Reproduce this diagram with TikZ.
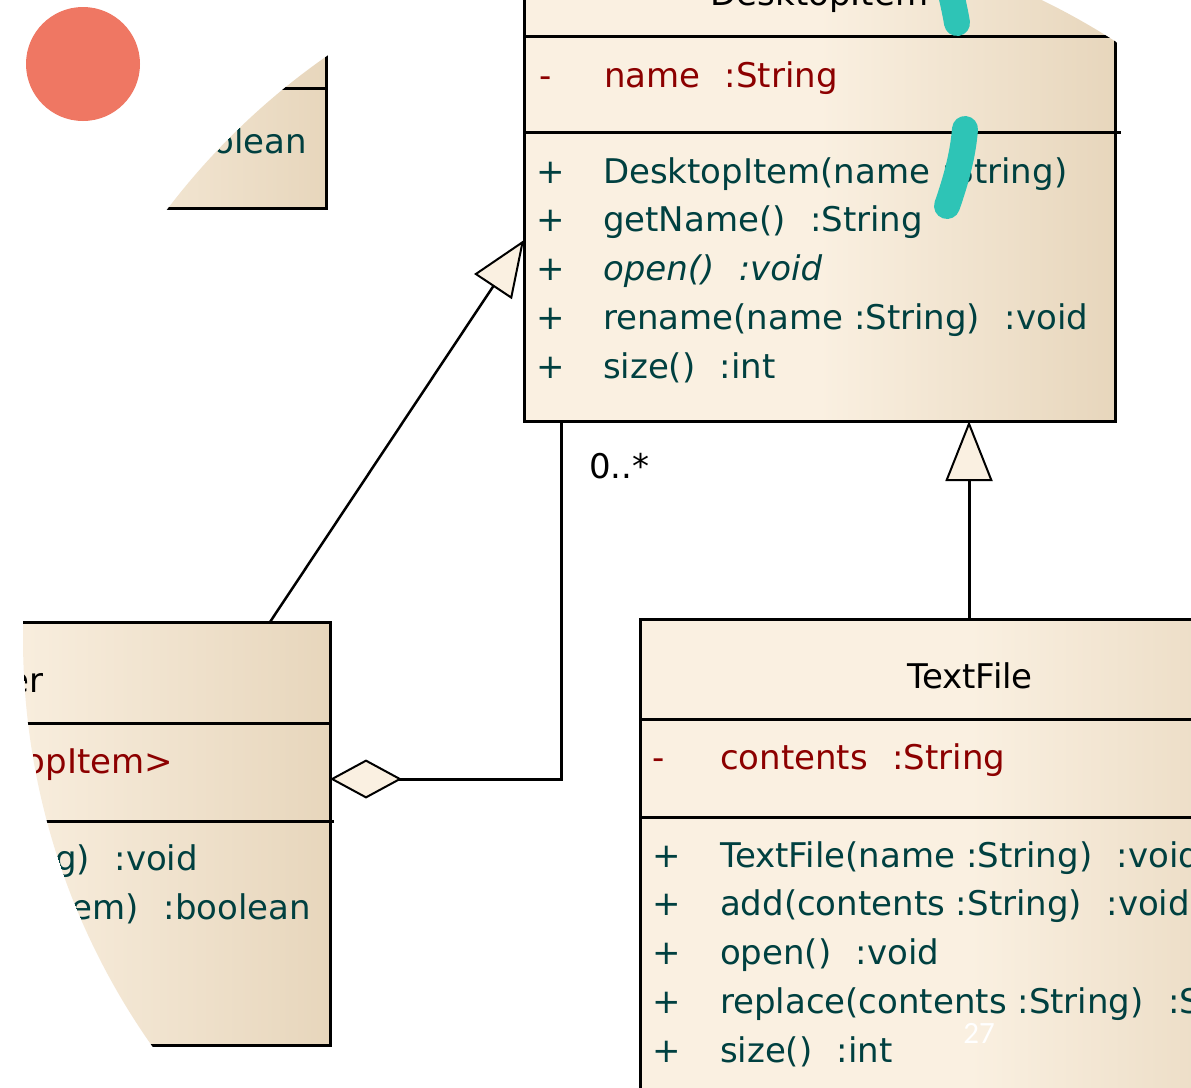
\documentclass[tikz,border=0pt]{standalone}
\usepackage{fontspec}
\setmainfont{DejaVu Sans}
\newfontfamily\pagefont{Carlito}
\usetikzlibrary{arrows.meta,calc}
\definecolor{cream}{RGB}{250,240,225}
\definecolor{boxtan}{RGB}{231,214,188}
\definecolor{opcol}{RGB}{0,64,64}
\definecolor{attrcol}{RGB}{140,0,0}
\definecolor{dotred}{RGB}{239,119,99}
\definecolor{markteal}{RGB}{46,196,182}
\newcommand\rgap{\hspace{0.4em}}
\begin{document}
\begin{tikzpicture}[x=1pt,y=-1pt,
  umlbox/.style={draw=black, line width=3pt, rectangle, inner sep=0pt, outer sep=0pt,
    anchor=north west, left color=cream, right color=boxtan, middle color=cream},
  sepline/.style={draw=black, line width=3pt},
  txt/.style={inner sep=0pt, outer sep=0pt, font=\fontsize{34}{40}\selectfont},
  titletxt/.style={txt, text=black, anchor=base},
  attrtxt/.style={txt, text=attrcol, anchor=base west},
  optxt/.style={txt, text=opcol, anchor=base west},
  marktxt/.style={txt, anchor=base},
  genline/.style={draw=black, line width=2.5pt,
    -{Triangle[length=56pt, width=45pt, fill=cream, line width=2pt]}},
  genlineb/.style={draw=black, line width=3pt,
    -{Triangle[length=60pt, width=47pt, fill=cream, line width=2pt]}},
  aggline/.style={draw=black, line width=3pt,
    -{Diamond[length=72pt, width=39pt, fill=cream, line width=2pt]}},
  stroke/.style={draw=markteal, line width=26pt, line cap=round}
]
\useasboundingbox (0,0) rectangle (1191,1087);
\fill[white] (0,0) rectangle (1191,1087);

\begin{scope}
\clip (0,0) rectangle (1191,1087);
\clip (732,638) circle[radius=709pt];

% top-left box
\node[umlbox, minimum width=576pt, minimum height=308pt] (doc) at (-250,-100) {};
\draw[sepline] ($(doc.north west)+(0,188)$) -- ($(doc.north east)+(0,188)$);
\node[optxt, anchor=base east] (docop) at (307,153) {:boolean};

% Folder box
\node[umlbox, minimum width=682pt, minimum height=423pt] (folder) at (-352,622) {};
\draw[sepline] ($(folder.north west)+(0,101)$) -- ($(folder.north east)+(0,101)$);
\draw[sepline] ($(folder.north west)+(0,199)$) -- ($(folder.north east)+(4,199)$);
\node[titletxt, anchor=base east] (ftitle) at (43,692) {er};
\node[attrtxt, anchor=base east] (fattr) at (173,773) {opItem>};
\node[optxt, anchor=base east] (fop1) at (198,870) {g)\rgap{} :void};
\node[optxt, anchor=base east] (fop2) at (311,919) {em)\rgap{} :boolean};

% DesktopItem box
\node[umlbox, minimum width=591pt, minimum height=485pt] (desk) at (524,-64) {};
\draw[sepline] ($(desk.north west)+(0,100)$) -- ($(desk.north east)+(0,100)$);
\draw[sepline] ($(desk.north west)+(0,196)$) -- ($(desk.north east)+(6,196)$);
\node[titletxt] (dtitle) at (819.5,5) {DesktopItem};
\node[marktxt, text=attrcol] (dam) at (545.5,87) {-};
\node[attrtxt] (dattr) at (604,87) {name\rgap{} :String};
\foreach \i/\t in {0/{DesktopItem(name :String)},
                   1/{getName()\rgap{} :String},
                   2/{\itshape open()\rgap{} :void},
                   3/{rename(name :String)\rgap{} :void},
                   4/{size()\rgap{} :int}} {
  \node[marktxt, text=opcol] (dplus\i) at (551,183+48.75*\i) {+};
  \node[optxt] (dop\i) at (603,183+48.75*\i) {\t};
}

% TextFile box
\node[umlbox, minimum width=660pt, minimum height=600pt] (tf) at (640,619) {};
\draw[sepline] ($(tf.north west)+(0,100)$) -- ($(tf.north east)+(0,100)$);
\draw[sepline] ($(tf.north west)+(0,198)$) -- ($(tf.north east)+(0,198)$);
\node[titletxt] (ttitle) at (970,688) {TextFile};
\node[marktxt, text=attrcol] (tam) at (659,769) {-};
\node[attrtxt] (tattr) at (720,769) {contents\rgap{} :String};
\foreach \i/\t in {0/{TextFile(name :String)\rgap{} :void},
                   1/{add(contents :String)\rgap{} :void},
                   2/{open()\rgap{} :void},
                   3/{replace(contents :String)\rgap{} :String},
                   4/{size()\rgap{} :int}} {
  \node[marktxt, text=opcol] (tplus\i) at (667,867+48.75*\i) {+};
  \node[optxt] (top\i) at (720,867+48.75*\i) {\t};
}

% connectors
\draw[genline] ($(folder.north west)+(622,0)$) -- ($(desk.north west)+(0,304)$);
\draw[aggline] ($(desk.south west)+(37,0)$) |- ($(folder.north east)+(0,157)$);
\node[txt, anchor=base west] (mult) at (589,478) {0..*};
\draw[genlineb] ($(tf.north west)+(329,0)$) -- ($(desk.south west)+(445,0)$);
\end{scope}

% decorations
\fill[dotred] (83,64) circle[radius=57pt];
\begin{scope}
\clip (0,0) rectangle (1191,1087);
\draw[stroke] (946,-30) .. controls (951,-5) and (955,10) .. (957,23);
\draw[stroke] (965,129) .. controls (963,155) and (956,180) .. (947,206);
\end{scope}
\node[inner sep=0pt, text=white, font=\pagefont\fontsize{31}{31}\selectfont, anchor=base] (pg) at (979,1043) {27};
\end{tikzpicture}
\end{document}
